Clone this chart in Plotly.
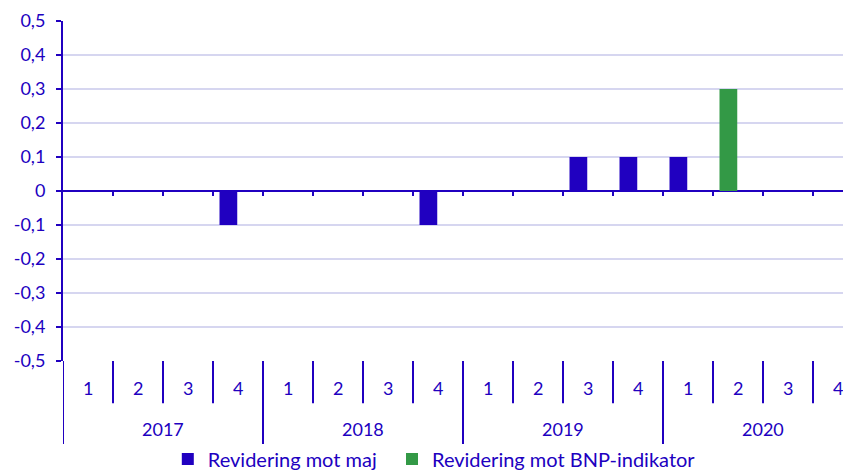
import plotly.graph_objects as go

years = ["2017", "2018", "2019", "2020"]
quarters = ["1", "2", "3", "4"]

# revision per quarter, 2017Q1 .. 2020Q4
rev_maj = [0, 0, 0, -0.1, 0, 0, 0, -0.1, 0, 0, 0.1, 0.1, 0.1, None, None, None]
rev_bnp = [None, None, None, None, None, None, None, None, None, None, None, None, None, 0.3, 0, 0]

y_tick_vals = [-0.5, -0.4, -0.3, -0.2, -0.1, 0, 0.1, 0.2, 0.3, 0.4, 0.5]
y_tick_text = ["-0,5", "-0,4", "-0,3", "-0,2", "-0,1", "0", "0,1", "0,2", "0,3", "0,4", "0,5"]

BLUE = "#2000C0"
GREEN = "#339946"
GRID = "#D6D6F0"
FONT = "Lato"

n = len(years) * len(quarters)
xs = list(range(n))

fig = go.Figure()
# nbsp padding widens the first legend entry a bit
fig.add_trace(go.Bar(x=xs, y=rev_maj, name="Revidering mot maj\u00a0\u00a0",
                     marker=dict(color=BLUE, line=dict(width=0)),
                     offset=-0.37, width=0.355))
fig.add_trace(go.Bar(x=xs, y=rev_bnp, name="Revidering mot BNP-indikator",
                     marker=dict(color=GREEN, line=dict(width=0)),
                     offset=-0.37, width=0.355))

shapes = []
annotations = []
for k in range(n):
    edge = k - 0.5
    if k % 4 == 0:
        y0 = -0.244
    else:
        y0 = -0.124
    shapes.append(dict(type="line", xref="x", yref="paper", x0=edge, x1=edge,
                       y0=0, y1=y0, line=dict(color=BLUE, width=2)))
    if k > 0:
        # small ticks on the zero line
        shapes.append(dict(type="line", xref="x", yref="y", x0=edge, x1=edge,
                           y0=0, y1=-0.015, line=dict(color=BLUE, width=2)))
    annotations.append(dict(x=k, y=-0.08, xref="x", yref="paper", yanchor="middle",
                            text=quarters[k % 4], showarrow=False,
                            font=dict(family=FONT, size=18, color=BLUE)))
for i, yr in enumerate(years):
    annotations.append(dict(x=i * 4 + 1.5, y=-0.2, xref="x", yref="paper", yanchor="middle",
                            text=yr, showarrow=False,
                            font=dict(family=FONT, size=18, color=BLUE)))

# the page body adds 8px around the figure, so margins are shifted by 8px
fig.update_layout(
    width=851, height=470,
    margin=dict(l=55, r=8, t=13, b=117, autoexpand=False),
    paper_bgcolor="white", plot_bgcolor="white",
    barmode="overlay",
    font=dict(family=FONT, size=18, color=BLUE),
    showlegend=True,
    legend=dict(orientation="h", x=0.133, xanchor="left", y=-0.288, yanchor="middle",
                font=dict(family=FONT, size=20, color=BLUE),
                bgcolor="rgba(0,0,0,0)"),
    shapes=shapes,
    annotations=annotations,
)
fig.update_xaxes(range=[-0.5, 15.26], showticklabels=False, showgrid=False,
                 zeroline=False, showline=False, ticks="", fixedrange=True,
                 automargin=False)
fig.update_yaxes(range=[-0.5, 0.5], tickvals=y_tick_vals, ticktext=y_tick_text,
                 showgrid=True, gridcolor=GRID, gridwidth=1.5,
                 zeroline=True, zerolinecolor=BLUE, zerolinewidth=2,
                 showline=True, linecolor=BLUE, linewidth=2,
                 ticks="outside", ticklen=5, tickwidth=2, tickcolor=BLUE,
                 ticklabelstandoff=7, automargin=False,
                 tickfont=dict(family=FONT, size=18, color=BLUE))

fig.write_html("out.html")
